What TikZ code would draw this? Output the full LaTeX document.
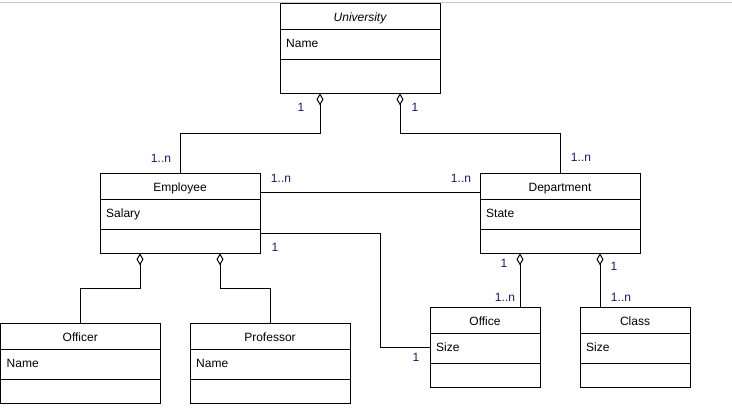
\documentclass[tikz,border=0pt]{standalone}
\usepackage{fontspec}
\setmainfont{Liberation Sans}
\usetikzlibrary{arrows.meta,calc}
\definecolor{lblc}{HTML}{301060}
\definecolor{topline}{HTML}{C8C8C8}
\newcommand\umlclass[7]{%
  % #1 name, #2 x, #3 y(top), #4 width, #5 bottom height, #6 title, #7 attribute
  \node[classbox, minimum width=#4pt, minimum height={56pt+#5pt}, anchor=north west] (#1) at (#2,#3) {};
  \node[txt, anchor=base] (#1-title) at ({#2+#4/2},{#3+18}) {#6};
  \node[txt, anchor=base west] (#1-attr) at ({#2+6},{#3+44}) {#7};
  \draw[boxline] ({#2},{#3+26}) -- ({#2+#4},{#3+26});
  \draw[boxline] ({#2},{#3+56}) -- ({#2+#4},{#3+56});
}
\tikzset{
  classbox/.style={draw, line width=1pt, inner sep=0pt, outer sep=0pt},
  boxline/.style={line width=1pt},
  txt/.style={font=\fontsize{12}{14}\selectfont, inner sep=0pt, text=black},
  lbl/.style={font=\fontsize{12}{14}\selectfont, inner sep=0pt, text=lblc},
  conn/.style={line width=1pt},
  agg/.style={line width=1pt, {Diamond[open, length=12pt, width=7pt, line width=1pt]}-},
}
\begin{document}
\begin{tikzpicture}[x=1pt, y=-1pt]
\useasboundingbox (0,0) rectangle (732,416);
\fill[white] (0,0) rectangle (732,416);
\draw[topline, line width=1pt] (0,2) -- (732,2);

\umlclass{univ}{280}{3.3}{160}{34}{\itshape University}{Name}
\umlclass{emp}{100}{173.3}{160}{24}{Employee}{Salary}
\umlclass{dept}{480}{173.3}{160}{24}{Department}{State}
\umlclass{officer}{0.5}{323.3}{159.5}{24}{Officer}{Name}
\umlclass{prof}{190}{323.3}{160}{24}{Professor}{Name}
\umlclass{office}{430}{307.3}{110}{24}{Office}{Size}
\umlclass{class}{580}{307.3}{110}{24}{Class}{Size}

% University aggregations
\draw[agg] ([xshift=-40pt]univ.south) -- ++(0,39.7) -| (emp.north);
\draw[agg] ([xshift=40pt]univ.south) -- ++(0,39.7) -| (dept.north);
% Employee - Department association
\draw[conn] ([yshift=-19pt]emp.north east) -- ([yshift=-19pt]dept.north west);
% Employee - Office association
\draw[conn] ([yshift=-60pt]emp.north east) -- ++(120,0) |- ([yshift=-40pt]office.north west);
% Department aggregations
\draw[agg] ([xshift=-40pt]dept.south) -- ([xshift=35pt]office.north);
\draw[agg] ([xshift=40pt]dept.south) -- ([xshift=-35pt]class.north);
% Employee aggregations
\draw[agg] ([xshift=-40pt]emp.south) -- ++(0,35) -| (officer.north);
\draw[agg] ([xshift=40pt]emp.south) -- ++(0,35) -| (prof.north);

% multiplicity labels
\node[lbl] (l1) at (301,107) {1};
\node[lbl] (l2) at (415,107) {1};
\node[lbl] (l3) at (161,158) {1..n};
\node[lbl] (l4) at (581,157) {1..n};
\node[lbl] (l5) at (281,178) {1..n};
\node[lbl] (l6) at (461,178) {1..n};
\node[lbl] (l7) at (275,247) {1};
\node[lbl] (l8) at (504,263) {1};
\node[lbl] (l9) at (614,266) {1};
\node[lbl] (l10) at (505,297) {1..n};
\node[lbl] (l11) at (621,297) {1..n};
\node[lbl] (l12) at (416,357) {1};
\end{tikzpicture}
\end{document}
